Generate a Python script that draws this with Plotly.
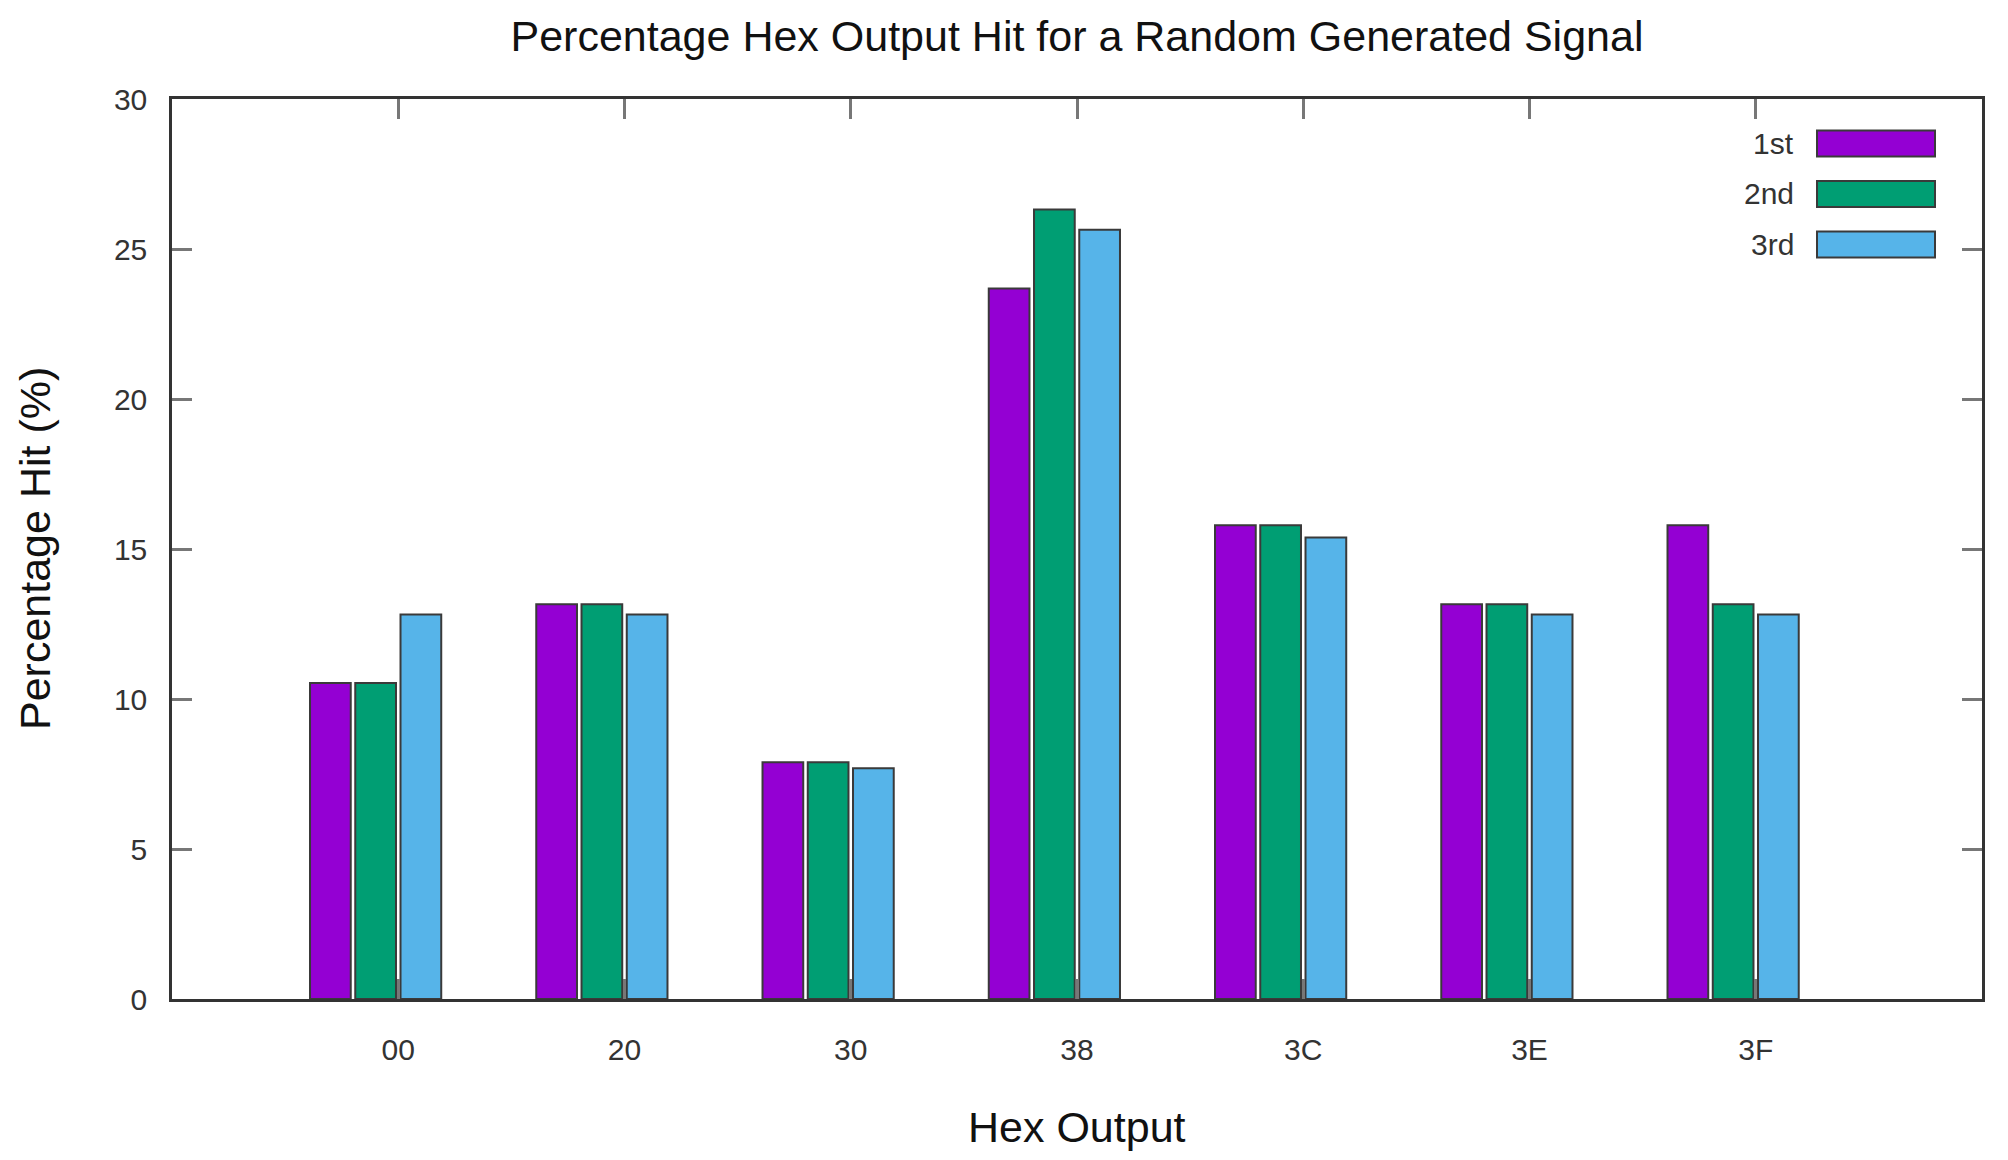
import plotly.graph_objects as go

categories = ["00", "20", "30", "38", "3C", "3E", "3F"]
series_names = ["1st", "2nd", "3rd"]
first = [10.53, 13.16, 7.89, 23.68, 15.79, 13.16, 15.79]
second = [10.53, 13.16, 7.89, 26.32, 15.79, 13.16, 13.16]
third = [12.82, 12.82, 7.69, 25.64, 15.38, 12.82, 12.82]
y_ticks = [0, 5, 10, 15, 20, 25, 30]

colors = ["#9400D3", "#009E73", "#56B4E9"]
series = [first, second, third]

FONT = "Liberation Sans, Arial, sans-serif"
OFF = 8  # page body margin
W, H = 2008 - 2 * OFF, 1160 - 2 * OFF
# plot area in page pixels
PX0, PX1, PY0, PY1 = 172, 1982, 99, 999
L, T = PX0 - OFF, PY0 - OFF
PW, PH = PX1 - PX0, PY1 - PY0
R, B = W - L - PW, H - T - PH


def px_x(x):
    return (x - PX0) / PW


def px_y(y):
    return (PY1 - y) / PH


fig = go.Figure()
bar_w = 0.18
for i, (name, vals, col) in enumerate(zip(series_names, series, colors)):
    center = -0.3 + 0.2 * i
    fig.add_trace(go.Bar(
        x=categories, y=vals, name=name,
        marker=dict(color=col, line=dict(color="#3a3a3a", width=2)),
        width=bar_w, offset=center - bar_w / 2,
        showlegend=False,
    ))

# manual legend (text left of swatch, like the reference)
for i, (name, col) in enumerate(zip(series_names, colors)):
    yc_px = 143.5 + 50.5 * i
    fig.add_shape(type="rect", xref="paper", yref="paper",
                  x0=px_x(1817), x1=px_x(1935),
                  y0=px_y(yc_px + 13), y1=px_y(yc_px - 13),
                  fillcolor=col, line=dict(color="#3a3a3a", width=2))
    fig.add_annotation(xref="paper", yref="paper", x=px_x(1796), y=px_y(yc_px),
                       text=name, showarrow=False, xanchor="right", yanchor="middle",
                       font=dict(family=FONT, size=30, color="#333333"))

# axis titles
fig.add_annotation(xref="paper", yref="paper", x=0.5, y=px_y(1127),
                   text="Hex Output", showarrow=False, xanchor="center", yanchor="middle",
                   font=dict(family=FONT, size=43, color="#111111"))
fig.add_annotation(xref="paper", yref="paper", x=px_x(35), y=0.5,
                   text="Percentage Hit (%)", showarrow=False, textangle=-90,
                   xanchor="center", yanchor="middle",
                   font=dict(family=FONT, size=43, color="#111111"))

fig.update_layout(
    width=W, height=H,
    margin=dict(l=L, r=R, t=T, b=B),
    paper_bgcolor="white", plot_bgcolor="white",
    barmode="overlay",
    title=dict(text="Percentage Hex Output Hit for a Random Generated Signal",
               x=0.5, xref="paper", xanchor="center",
               y=1 - (36 - OFF) / H, yref="container", yanchor="middle",
               font=dict(family=FONT, size=43, color="#111111")),
    font=dict(family=FONT, size=30, color="#333333"),
)
fig.update_xaxes(
    type="category", range=[-1, 7],
    showline=True, linecolor="#333333", linewidth=2.5, mirror="allticks",
    ticks="inside", ticklen=20, tickwidth=2.5, tickcolor="#777777",
    tickfont=dict(family=FONT, size=30, color="#333333"),
    ticklabelstandoff=22,
    showgrid=False, zeroline=False,
)
fig.update_yaxes(
    range=[0, 30], tickvals=y_ticks,
    showline=True, linecolor="#333333", linewidth=2.5, mirror="allticks",
    ticks="inside", ticklen=20, tickwidth=2.5, tickcolor="#777777",
    tickfont=dict(family=FONT, size=30, color="#333333"),
    ticklabelstandoff=16,
    showgrid=False, zeroline=False,
)

fig.write_html("out.html")
